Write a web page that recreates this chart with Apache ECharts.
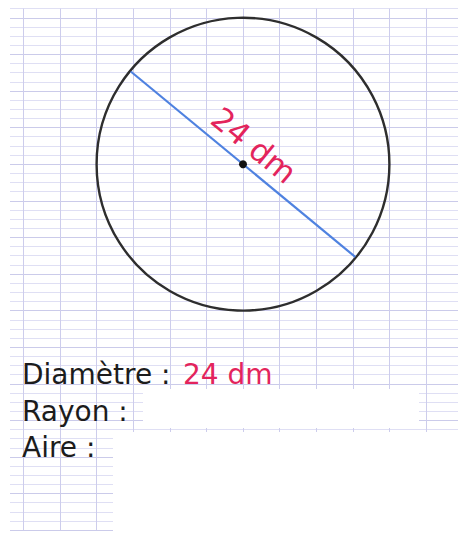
<!DOCTYPE html>
<html><head><meta charset="utf-8">
<script src="https://cdn.jsdelivr.net/npm/echarts@6/dist/echarts.min.js"></script>
<style>html,body{margin:0;padding:0;background:#fff}#c{width:458px;height:536px}</style>
</head><body><div id="c"></div>
<script>
// ---- data (units: dm) ----
const circleData = [[0, 0, 12]];            // centre x, centre y, radius
const diameterEnds = [[-9.2, 7.6], [9.2, -7.6]];
const labelAnchor = [0.9, 1.55];
const diameterLabel = '24 dm';
const rowLabels = ['Diamètre :', 'Rayon :', 'Aire :'];
const rowAnswers = ['24 dm', '', ''];
// paper ruling (Seyès) in dm
const paperX = [-18, 18];
const paperY = [-30, 12.75];
const minorStep = 0.75;
const majorStep = 3;

const RED = '#e3245c', BLUE = '#4f82e0', INK = '#1c1c1c';
const FONT = '28px "DejaVu Sans"';
const LABEL_FONT = '31px "DejaVu Sans"';

const chart = echarts.init(document.getElementById('c'), null, {renderer: 'svg', width: 458, height: 536});

const hidden = {axisLine: {show: false}, axisTick: {show: false}, axisLabel: {show: false}};
const gridTop = 8.65, gridH = 521.55;

chart.setOption({
  animation: false,
  backgroundColor: '#ffffff',
  grid: [
    {left: 10, width: 448, top: gridTop, height: gridH, outerBoundsMode: 'none', containLabel: false},
    {left: 23.4, width: 439.2, top: gridTop, height: gridH, outerBoundsMode: 'none', containLabel: false}
  ],
  xAxis: [
    Object.assign({type: 'value', gridIndex: 0, min: 0, max: 1, splitLine: {show: false}}, hidden),
    Object.assign({type: 'value', gridIndex: 1, min: paperX[0], max: paperX[1], interval: majorStep,
      splitLine: {show: true, lineStyle: {color: '#cdcdec', width: 1}}}, hidden)
  ],
  yAxis: [
    Object.assign({type: 'value', gridIndex: 0, min: paperY[0], max: paperY[1], interval: minorStep,
      splitLine: {show: true, lineStyle: {color: '#dfdff4', width: 1}}}, hidden),
    Object.assign({type: 'value', gridIndex: 0, position: 'right', min: paperY[0], max: paperY[1], interval: majorStep,
      splitLine: {show: true, showMaxLine: false, lineStyle: {color: '#cbcbea', width: 1}}}, hidden),
    Object.assign({type: 'value', gridIndex: 1, min: paperY[0], max: paperY[1], splitLine: {show: false}}, hidden)
  ],
  graphic: [
    {type: 'rect', z: 1, shape: {x: 143, y: 389, width: 276, height: 39}, style: {fill: '#fff'}},
    {type: 'rect', z: 1, shape: {x: 113, y: 432, width: 345, height: 104}, style: {fill: '#fff'}},
    {type: 'rect', z: 1, shape: {x: 0, y: 532, width: 458, height: 4}, style: {fill: '#fff'}},
    {type: 'text', z: 5, style: {x: 22, y: 374, text: rowLabels[0], font: FONT, fill: INK, verticalAlign: 'middle'}},
    {type: 'text', z: 5, style: {x: 183, y: 374, text: rowAnswers[0], font: FONT, fill: RED, verticalAlign: 'middle'}},
    {type: 'text', z: 5, style: {x: 22, y: 411, text: rowLabels[1], font: FONT, fill: INK, verticalAlign: 'middle'}},
    {type: 'text', z: 5, style: {x: 22, y: 447, text: rowLabels[2], font: FONT, fill: INK, verticalAlign: 'middle'}}
  ],
  series: [{
    type: 'custom',
    xAxisIndex: 1, yAxisIndex: 2,
    z: 3,
    data: circleData,
    renderItem: function (params, api) {
      const c = api.coord([api.value(0), api.value(1)]);
      const r = api.size([api.value(2), 0])[0];
      const p1 = api.coord(diameterEnds[0]);
      const p2 = api.coord(diameterEnds[1]);
      const la = api.coord(labelAnchor);
      const rot = Math.atan2(p1[1] - p2[1], p2[0] - p1[0]);
      return {
        type: 'group',
        children: [
          {type: 'circle', shape: {cx: c[0], cy: c[1], r: r}, style: {fill: 'none', stroke: '#2e2e2e', lineWidth: 2.4}},
          {type: 'line', shape: {x1: p1[0], y1: p1[1], x2: p2[0], y2: p2[1]}, style: {stroke: BLUE, lineWidth: 2.2}},
          {type: 'circle', shape: {cx: c[0], cy: c[1], r: 4}, style: {fill: '#111'}},
          {type: 'text', x: la[0], y: la[1], rotation: rot,
            style: {text: diameterLabel, font: LABEL_FONT, fill: RED, align: 'center', verticalAlign: 'middle'}}
        ]
      };
    }
  }]
});
</script></body></html>
